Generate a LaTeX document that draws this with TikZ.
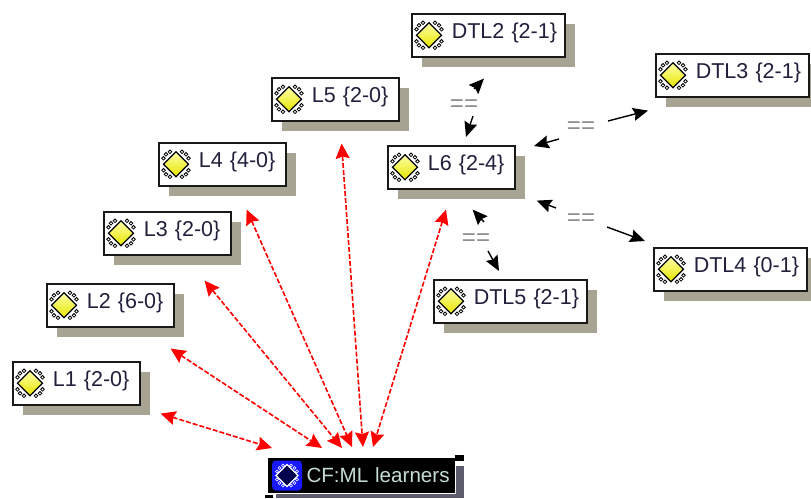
\documentclass[tikz,border=0pt]{standalone}
\usepackage{fontspec}
\setmainfont{Liberation Sans}
\usetikzlibrary{arrows.meta,shadows}
\definecolor{shade}{HTML}{A8A493}
\definecolor{cfshade}{HTML}{5C5C6C}
\definecolor{inktext}{HTML}{20203C}
\definecolor{cftext}{HTML}{C4DCD4}
\definecolor{eqgrey}{HTML}{8C8C8C}
\newcommand{\boxlab}[1]{\hspace*{38pt}\raisebox{2pt}[\height][\depth]{#1}}
\tikzset{
  learner/.style={draw=black!90,line width=1.6pt,fill=white,anchor=north west,
    minimum height=43pt,inner xsep=2pt,inner ysep=0pt,align=left,text=inktext,
    font=\fontsize{21.5}{24}\selectfont,
    general shadow={fill=shade,shadow xshift=10pt,shadow yshift=-10pt}},
  wideL/.style={learner,text width=123pt,minimum width=127pt},
  wideD/.style={learner,text width=149pt,minimum width=153pt},
  redlink/.style={draw=red,dash pattern=on 5pt off 2pt,line width=1.6pt,
    {Stealth[length=15pt,width=14pt,inset=2pt,fill=red]}-{Stealth[length=15pt,width=14pt,inset=2pt,fill=red]}},
  blacklink/.style={draw=black,line width=1.4pt,-{Stealth[length=15pt,width=13pt,inset=2pt]}},
  eqlabel/.style={text=eqgrey,inner sep=0pt,font=\fontsize{24}{26}\selectfont},
}
\newcommand{\chipicon}[1]{%
  \begin{scope}[shift={(#1)}]
    \foreach \sx in {-1,1}\foreach \sy in {-1,1}{
      \foreach \a/\b in {6/12.5,10/10,12.5/6}{
        \draw[black,fill=white,line width=.8pt] (\sx*\a,\sy*\b) circle (1.8pt);}}
    \draw[black,line width=1.2pt,top color=yellow!35!white,bottom color=yellow!90!black]
      (-12.5,0)--(0,-12.5)--(12.5,0)--(0,12.5)--cycle;
  \end{scope}}
\newcommand{\bluechip}[1]{%
  \begin{scope}[shift={(#1)}]
    \fill[blue!90!white,rounded corners=4pt] (-15,-15) rectangle (15,15);
    \foreach \sx in {-1,1}\foreach \sy in {-1,1}{
      \foreach \a/\b in {4/10,7.5/7.5,10/4}{
        \draw[white,line width=.6pt] (\sx*\a,\sy*\b) circle (1.5pt);}}
    \draw[white,line width=1.1pt,fill=black!70!blue]
      (-11,0)--(0,-11)--(11,0)--(0,11)--cycle;
  \end{scope}}
\begin{document}
\begin{tikzpicture}[x=1pt,y=-1pt]
\useasboundingbox (0,0) rectangle (811,498);
\fill[white] (0,0) rectangle (811,498);
% learner boxes
\node[wideL] (L1) at (12,361) {\boxlab{L1 \{2-0\}}};
\node[wideL] (L2) at (46,283) {\boxlab{L2 \{6-0\}}};
\node[wideL] (L3) at (103,211) {\boxlab{L3 \{2-0\}}};
\node[wideL] (L4) at (158,142) {\boxlab{L4 \{4-0\}}};
\node[wideL] (L5) at (271,77) {\boxlab{L5 \{2-0\}}};
\node[wideL] (L6) at (387,145) {\boxlab{L6 \{2-4\}}};
\node[wideD] (D2) at (411,13) {\boxlab{DTL2 \{2-1\}}};
\node[wideD] (D3) at (655,53) {\boxlab{DTL3 \{2-1\}}};
\node[wideD] (D4) at (653,247) {\boxlab{DTL4 \{0-1\}}};
\node[wideD] (D5) at (433,279) {\boxlab{DTL5 \{2-1\}}};
\foreach \n in {L1,L2,L3,L4,L5,L6,D2,D3,D4,D5}{\chipicon{[xshift=18pt]\n.west}}
% CF box
\fill[cfshade] (276,466) rectangle (464,498);
\node[fill=black,draw=white,line width=1pt,anchor=north west,minimum width=188pt,minimum height=36pt,
  inner xsep=2pt,inner ysep=0pt,text width=184pt,align=left,text=cftext,
  font=\fontsize{20.6}{24}\selectfont] (CF) at (267,457) {\hspace*{37pt}CF:ML learners};
\fill[black] (455,455) rectangle (464,461);
\fill[black] (265,495) rectangle (273,498);
\bluechip{[xshift=20pt]CF.west}
% red links
\draw[redlink] ([shift={(20,8)}]L1.south east) -- ([shift={(5,-9)}]CF.north west);
\draw[redlink] ([shift={(-4,21)}]L2.south east) -- ([shift={(55,-9)}]CF.north west);
\draw[redlink] ([shift={(-27,25)}]L3.south east) -- ([shift={(75,-9)}]CF.north west);
\draw[redlink] ([shift={(-40,23)}]L4.south east) -- ([shift={(85,-10)}]CF.north west);
\draw[redlink] ([shift={(-58,22)}]L5.south east) -- ([shift={(96,-10)}]CF.north west);
\draw[redlink] ([shift={(59,20)}]L6.south west) -- ([shift={(106,-10)}]CF.north west);
% equality labels
\node[eqlabel] (e2) at (464,106) {==};
\node[eqlabel] (e3) at (581,128) {==};
\node[eqlabel] (e4) at (581,220) {==};
\node[eqlabel] (e5) at (476,240) {==};
% black links
\draw[blacklink] ([shift={(10,-17)}]e2.center) -- ([shift={(73,21)}]D2.south west);
\draw[blacklink] ([shift={(9,10)}]e2.center) -- ([shift={(79,-8)}]L6.north west);
\draw[blacklink] ([shift={(-22,11)}]e3.center) -- ([shift={(147,1)}]L6.north west);
\draw[blacklink] ([shift={(27,-7)}]e3.center) -- ([shift={(-7,13)}]D3.south west);
\draw[blacklink] ([shift={(-25,-12)}]e4.center) -- ([shift={(21,11)}]L6.south east);
\draw[blacklink] ([shift={(26,7)}]e4.center) -- ([shift={(-8,-6)}]D4.north west);
\draw[blacklink] ([shift={(8,-18)}]e5.center) -- ([shift={(-43,20)}]L6.south east);
\draw[blacklink] ([shift={(12,11)}]e5.center) -- ([shift={(66,-8)}]D5.north west);
\end{tikzpicture}
\end{document}
